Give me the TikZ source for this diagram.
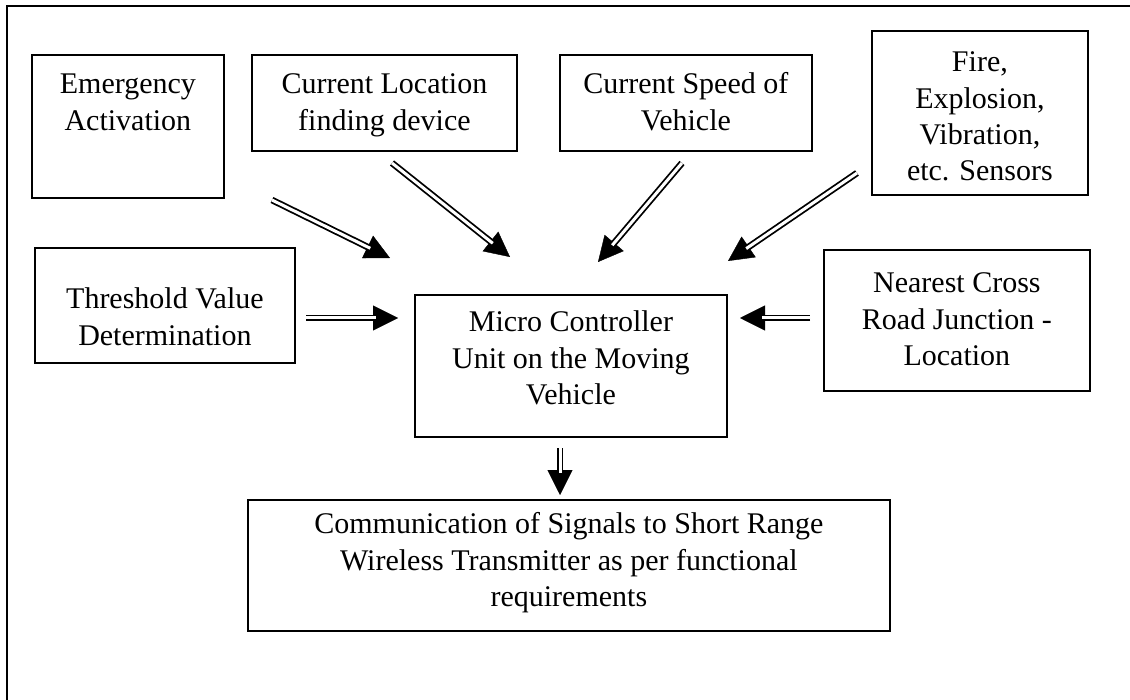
\documentclass[tikz,border=0pt]{standalone}
\usepackage{fontspec}
\setmainfont{Liberation Serif}
\usetikzlibrary{arrows.meta}
\tikzset{
  box/.style={draw, line width=1.8pt, inner sep=0pt, anchor=north west},
  dblline/.style={draw, double, double distance=3pt, line width=1.8pt, shorten >=22pt},
  headtip/.style={draw, line width=0.4pt, -{Triangle[length=25pt,width=25pt]}},
  every node/.style={font=\fontsize{30}{36.3}\selectfont}
}
\newcommand\bt[4]{\parbox[c][#2pt][t]{#1pt}{\centering\rule{0pt}{#3pt}#4}}
\newcommand\darrow[2]{\path[headtip] (#1) -- (#2); \path[dblline] (#1) -- (#2);}
\begin{document}
\begin{tikzpicture}[x=1pt,y=-1pt]
\useasboundingbox (0,0) rectangle (1130,700);
\clip (0,0) rectangle (1130,700);
\fill[white] (0,0) rectangle (1130,700);
\draw[line width=2pt] (7,6) rectangle (1150,720);
% boxes
\node[box] (em)   at (31,54)   {\bt{192}{143}{39}{Emergency\\Activation}};
\node[box] (loc)  at (251,54)  {\bt{265}{96}{39}{Current Location\\finding device}};
\node[box] (spd)  at (559,54)  {\bt{252}{96}{39}{Current Speed of\\Vehicle}};
\node[box] (fire) at (871,30)  {\bt{216}{164}{41}{Fire,\\Explosion,\\Vibration,\\etc. Sensors}};
\node[box] (thr)  at (34,247)  {\bt{260}{115}{61}{Threshold Value\\Determination}};
\node[box] (mcu)  at (414,294) {\bt{312}{142}{37}{Micro Controller\\Unit on the Moving\\Vehicle}};
\node[box] (near) at (823,249) {\bt{266}{141}{43}{Nearest Cross\\Road Junction -\\Location}};
\node[box] (comm) at (247,499) {\bt{642}{131}{34}{Communication of Signals to Short Range\\Wireless Transmitter as per functional\\requirements}};
% arrow end points
\coordinate (s1) at (272,200); \coordinate (t1) at (390,258);
\coordinate (s2) at (392,163); \coordinate (t2) at (510,257);
\coordinate (s3) at (682,163); \coordinate (t3) at (598,262);
\coordinate (s4) at (857,173); \coordinate (t4) at (728,261);
\coordinate (s5) at (306,318); \coordinate (t5) at (398,318);
\coordinate (s6) at (810,318); \coordinate (t6) at (740,318);
\coordinate (s7) at (560,448); \coordinate (t7) at (560,495);
\darrow{s1}{t1}
\darrow{s2}{t2}
\darrow{s3}{t3}
\darrow{s4}{t4}
\darrow{s5}{t5}
\darrow{s6}{t6}
\darrow{s7}{t7}
\end{tikzpicture}
\end{document}
